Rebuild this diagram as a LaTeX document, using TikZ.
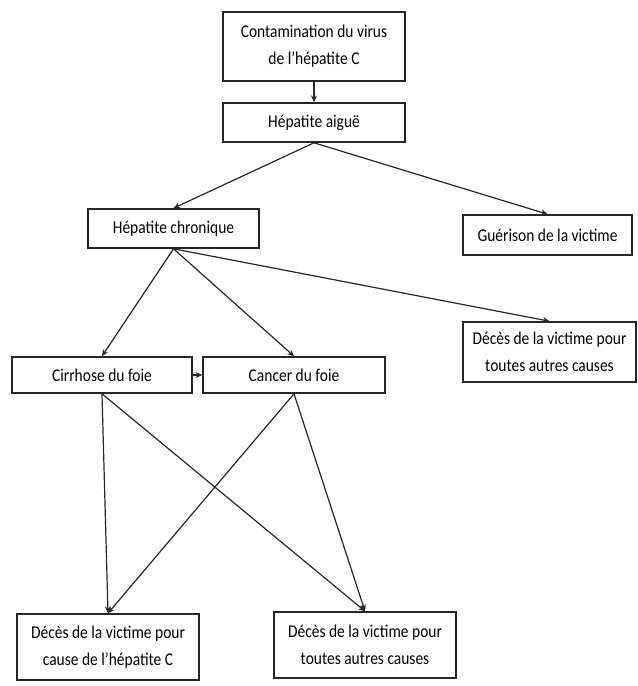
\documentclass[tikz,border=0pt]{standalone}
\usepackage{fontspec}
\setmainfont[FakeStretch=0.86]{Carlito}
\usetikzlibrary{arrows.meta}
\begin{document}
\begin{tikzpicture}[x=0.75pt,y=-0.75pt,
  box/.style={draw=black!85, line width=1.2pt, inner sep=0pt, align=center,
    font=\fontsize{13.5}{20.5}\selectfont},
  conn/.style={draw=black!85, line width=0.9pt, -{Stealth[length=5pt,width=4.5pt]}}]
\useasboundingbox (0,0) rectangle (637,686);
\node[box, minimum width=182*0.75pt, minimum height=69*0.75pt] (cont) at (314,46.5) {Contamination du virus\\de l’hépatite C};
\node[box, minimum width=182*0.75pt, minimum height=39*0.75pt] (aig) at (314,122.5) {Hépatite aiguë};
\node[box, minimum width=171*0.75pt, minimum height=39*0.75pt] (chron) at (173.5,228.5) {Hépatite chronique};
\node[box, minimum width=169*0.75pt, minimum height=40*0.75pt] (guer) at (547.5,235) {Guérison de la victime};
\node[box, minimum width=173*0.75pt, minimum height=60*0.75pt] (dr) at (549.5,352) {Décès de la victime pour\\toutes autres causes};
\node[box, minimum width=180*0.75pt, minimum height=36*0.75pt] (cirr) at (102,375) {Cirrhose du foie};
\node[box, minimum width=182*0.75pt, minimum height=36*0.75pt] (canc) at (294,375) {Cancer du foie};
\node[box, minimum width=182*0.75pt, minimum height=66*0.75pt] (dhc) at (108,647) {Décès de la victime pour\\cause de l’hépatite C};
\node[box, minimum width=182*0.75pt, minimum height=66*0.75pt] (dao) at (365,645) {Décès de la victime pour\\toutes autres causes};
\draw[conn] (cont.south) -- (aig.north);
\draw[conn] (aig.south) -- (chron.north);
\draw[conn] (aig.south) -- (guer.north);
\draw[conn] (chron.south) -- (cirr.north);
\draw[conn] (chron.south) -- (canc.north);
\draw[conn] (chron.south) -- (dr.north);
\draw[conn] (cirr.east) -- (canc.west);
\draw[conn] (cirr.south) -- (dhc.north);
\draw[conn] (cirr.south) -- (dao.north);
\draw[conn] (canc.south) -- (dhc.north);
\draw[conn] (canc.south) -- (dao.north);
\end{tikzpicture}
\end{document}
